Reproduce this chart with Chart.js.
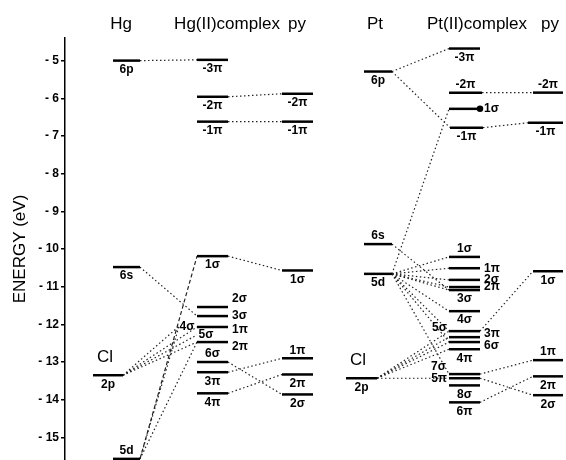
<!DOCTYPE html>
<html>
<head>
<meta charset="utf-8">
<script src="https://cdn.jsdelivr.net/npm/chart.js@4.4.1/dist/chart.umd.min.js"></script>
<style>
  html, body { margin: 0; padding: 0; background: #fff; }
</style>
</head>
<body>
<canvas id="levels" width="566" height="460"></canvas>
<script>
"use strict";

// orbital energies (eV)
const hgAtomNames = ['6p', '6s', '5d'];
const hgAtomE = [-5.0, -10.48, -15.57];
const hgClNames = ['2p'];
const hgClE = [-13.35];
const hgCxNames = ['-3π', '-2π', '-1π', '1σ', '2σ', '3σ', '4σ', '1π', '5σ', '2π', '6σ', '3π', '4π'];
const hgCxE = [-4.98, -5.96, -6.62, -10.19, -11.54, -11.78, -12.05, -12.07, -12.28, -12.47, -13.0, -13.27, -13.83];
const hgPyNames = ['-2π', '-1π', '1σ', '1π', '2π', '2σ'];
const hgPyE = [-5.88, -6.62, -10.57, -12.9, -13.33, -13.86];

const ptAtomNames = ['6p', '6s', '5d'];
const ptAtomE = [-5.29, -9.87, -10.66];
const ptClNames = ['2p'];
const ptClE = [-13.43];
const ptCxNames = ['-3π', '-2π', '1σ', '-1π', '1σ', '1π', '2σ', '2π', '3σ', '4σ', '5σ', '3π', '6σ', '4π', '7σ', '5π', '8σ', '6π'];
const ptCxE = [-4.68, -5.85, -6.28, -6.78, -10.21, -10.51, -10.82, -11.01, -11.09, -11.65, -12.18, -12.34, -12.47, -12.66, -13.32, -13.43, -13.62, -14.07];
const ptPyNames = ['-2π', '-1π', '1σ', '1π', '2π', '2σ'];
const ptPyE = [-5.85, -6.65, -10.59, -12.95, -13.38, -13.88];

const headers = ['Hg', 'Hg(II)complex', 'py', 'Pt', 'Pt(II)complex', 'py'];
const yTickValues = [-5, -6, -7, -8, -9, -10, -11, -12, -13, -14, -15];
const yTickLabels = ['- 5', '- 6', '- 7', '- 8', '- 9', '- 10', '- 11', '- 12', '- 13', '- 14', '- 15'];

// correlation lines: [from column, level, to column, level, dashed?]
const links = [
    ['hgAtom', 0, 'hgCx', 0], ['hgCx', 1, 'hgPy', 0], ['hgCx', 2, 'hgPy', 1],
    ['hgCx', 3, 'hgPy', 2], ['hgCx', 11, 'hgPy', 3], ['hgCx', 10, 'hgPy', 5], ['hgCx', 12, 'hgPy', 4],
    ['hgAtom', 1, 'hgCx', 5], ['hgAtom', 2, 'hgCx', 3, true], ['hgAtom', 2, 'hgCx', 9], ['hgAtom', 2, 'hgCx', 6],
    ['hgCl', 0, 'hgCx', 6], ['hgCl', 0, 'hgCx', 7], ['hgCl', 0, 'hgCx', 8], ['hgCl', 0, 'hgCx', 9],
    ['ptAtom', 0, 'ptCx', 0], ['ptAtom', 0, 'ptCx', 3], ['ptCx', 1, 'ptPy', 0], ['ptCx', 3, 'ptPy', 1],
    ['ptAtom', 2, 'ptCx', 2], ['ptAtom', 1, 'ptCx', 8],
    ['ptAtom', 2, 'ptCx', 4], ['ptAtom', 2, 'ptCx', 5], ['ptAtom', 2, 'ptCx', 6], ['ptAtom', 2, 'ptCx', 7],
    ['ptAtom', 2, 'ptCx', 8], ['ptAtom', 2, 'ptCx', 9], ['ptAtom', 2, 'ptCx', 10], ['ptAtom', 2, 'ptCx', 12],
    ['ptAtom', 2, 'ptCx', 14],
    ['ptCl', 0, 'ptCx', 10], ['ptCl', 0, 'ptCx', 11], ['ptCl', 0, 'ptCx', 12], ['ptCl', 0, 'ptCx', 13],
    ['ptCl', 0, 'ptCx', 15],
    ['ptCx', 10, 'ptPy', 2], ['ptCx', 14, 'ptPy', 3], ['ptCx', 15, 'ptPy', 5], ['ptCx', 17, 'ptPy', 4]
];

// layout only: x extents (x scale units = px), label placement and nudges
const FONT = "'Liberation Sans', Arial, sans-serif";
const headerX = [121, 227, 297, 375, 477, 550];
const cols = {
    hgAtom: {names: hgAtomNames, e: hgAtomE, x: [113, 140], lab: ['b', 'b', 'a']},
    hgCl: {names: hgClNames, e: hgClE, x: [93, 123], lab: ['b'], cl: true},
    hgCx: {names: hgCxNames, e: hgCxE, x: [197, 228],
        lab: ['b', 'b', 'b', 'b', 'r', 'r', 'c', 'r', 'c', 'r', 'a', 'b', 'b'],
        xs: {6: [179, 195], 8: [197, 215]}, hidden: [6, 8], dy: {4: -8, 7: 3, 9: 5}},
    hgPy: {names: hgPyNames, e: hgPyE, x: [282, 313], lab: ['b', 'b', 'b', 'a', 'b', 'b']},
    ptAtom: {names: ptAtomNames, e: ptAtomE, x: [364, 392], lab: ['b', 'a', 'b']},
    ptCl: {names: ptClNames, e: ptClE, x: [346, 377], lab: ['b'], cl: true},
    ptCx: {names: ptCxNames, e: ptCxE, x: [449, 480],
        lab: ['b', 'a', 'r', 'b', 'a', 'r', 'r', 'r', 'b', 'b', 'l', 'r', 'r', 'b', 'la', 'l', 'b', 'b'],
        xs: {1: [449, 482], 3: [450, 483]}, dot: [2], dy: {10: -3, 11: -3, 12: 4}},
    ptPy: {names: ptPyNames, e: ptPyE, x: [533, 563], lab: ['a', 'b', 'b', 'a', 'b', 'b'],
        xs: {1: [528, 563]}}
};

function levelX(key, i) {
    const c = cols[key];
    return (c.xs && c.xs[i]) || c.x;
}

const datasets = [];
const marks = [];

for (const l of links) {
    const a = levelX(l[0], l[1]);
    const b = levelX(l[2], l[3]);
    datasets.push({
        data: [{x: a[1], y: cols[l[0]].e[l[1]]}, {x: b[0], y: cols[l[2]].e[l[3]]}],
        borderColor: '#222',
        borderWidth: 1.2,
        borderDash: l[4] ? [4, 2.5] : [1.5, 2.5],
        pointRadius: 0,
        order: 2
    });
}

for (const key in cols) {
    const c = cols[key];
    c.e.forEach((e, i) => {
        const xr = levelX(key, i);
        const hidden = c.hidden && c.hidden.includes(i);
        const dot = c.dot && c.dot.includes(i);
        datasets.push({
            data: [{x: xr[0], y: e}, {x: xr[1], y: e}],
            borderColor: hidden ? 'rgba(0,0,0,0)' : '#000',
            backgroundColor: '#000',
            borderWidth: 2.5,
            borderCapStyle: 'butt',
            pointRadius: dot ? [0, 2] : 0,
            order: 1
        });
        marks.push({ds: datasets.length - 1, text: c.names[i], pos: c.lab[i], cl: c.cl,
            dy: (c.dy && c.dy[i]) || 0});
    });
}

const labelPlugin = {
    id: 'levelLabels',
    afterDatasetsDraw(chart) {
        const ctx = chart.ctx;
        const xs = chart.scales.x;
        ctx.save();
        ctx.fillStyle = '#000';
        ctx.font = '17px ' + FONT;
        ctx.textAlign = 'center';
        ctx.textBaseline = 'alphabetic';
        headers.forEach((h, i) => ctx.fillText(h, xs.getPixelForValue(headerX[i]), 29));

        for (const m of marks) {
            const pts = chart.getDatasetMeta(m.ds).data;
            const x0 = pts[0].x, x1 = pts[1].x, y = pts[0].y + m.dy;
            const cx = (x0 + x1) / 2;
            if (m.cl) {
                ctx.font = '17px ' + FONT;
                ctx.textAlign = 'left';
                ctx.textBaseline = 'alphabetic';
                ctx.fillText('Cl', x0 + 4, y - 13);
            }
            ctx.font = 'bold 12px ' + FONT;
            if (m.pos === 'b') {
                ctx.textAlign = 'center'; ctx.textBaseline = 'top';
                ctx.fillText(m.text, cx, y + 3);
            } else if (m.pos === 'a') {
                ctx.textAlign = 'center'; ctx.textBaseline = 'bottom';
                ctx.fillText(m.text, cx, y - 2);
            } else if (m.pos === 'r') {
                ctx.textAlign = 'left'; ctx.textBaseline = 'middle';
                ctx.fillText(m.text, x1 + 4, y);
            } else if (m.pos === 'l') {
                ctx.textAlign = 'right'; ctx.textBaseline = 'middle';
                ctx.fillText(m.text, x0 - 2, y);
            } else if (m.pos === 'la') {
                ctx.textAlign = 'right'; ctx.textBaseline = 'bottom';
                ctx.fillText(m.text, x0 - 3, y - 1);
            } else {
                ctx.textAlign = 'center'; ctx.textBaseline = 'middle';
                ctx.fillText(m.text, cx, y);
            }
        }
        ctx.restore();
    }
};

new Chart(document.getElementById('levels'), {
    type: 'line',
    data: {datasets: datasets},
    options: {
        responsive: false,
        animation: false,
        devicePixelRatio: 1,
        layout: {autoPadding: false, padding: {top: 38, right: 0, bottom: 0, left: 0}},
        plugins: {legend: {display: false}, tooltip: {enabled: false}},
        scales: {
            x: {type: 'linear', min: 65, max: 566, display: false},
            y: {
                type: 'linear',
                min: -15.6,
                max: -4.4,
                afterFit: scale => {
                    scale.width = 65;
                    scale.paddingTop = 0;
                    scale.paddingBottom = 0;
                },
                border: {display: true, color: '#000', width: 1.5},
                grid: {drawOnChartArea: false, drawTicks: true, tickLength: 4, color: '#000', lineWidth: 1.5},
                ticks: {
                    stepSize: 1,
                    includeBounds: false,
                    autoSkip: false,
                    padding: 2,
                    color: '#000',
                    font: {family: FONT, size: 12, weight: 'bold'},
                    callback: v => {
                        const i = yTickValues.indexOf(v);
                        return i >= 0 ? yTickLabels[i] : '';
                    }
                },
                title: {
                    display: true,
                    text: 'ENERGY (eV)',
                    color: '#000',
                    font: {family: FONT, size: 17},
                    padding: {top: 10, bottom: 0}
                }
            }
        }
    },
    plugins: [labelPlugin]
});
</script>
</body>
</html>
